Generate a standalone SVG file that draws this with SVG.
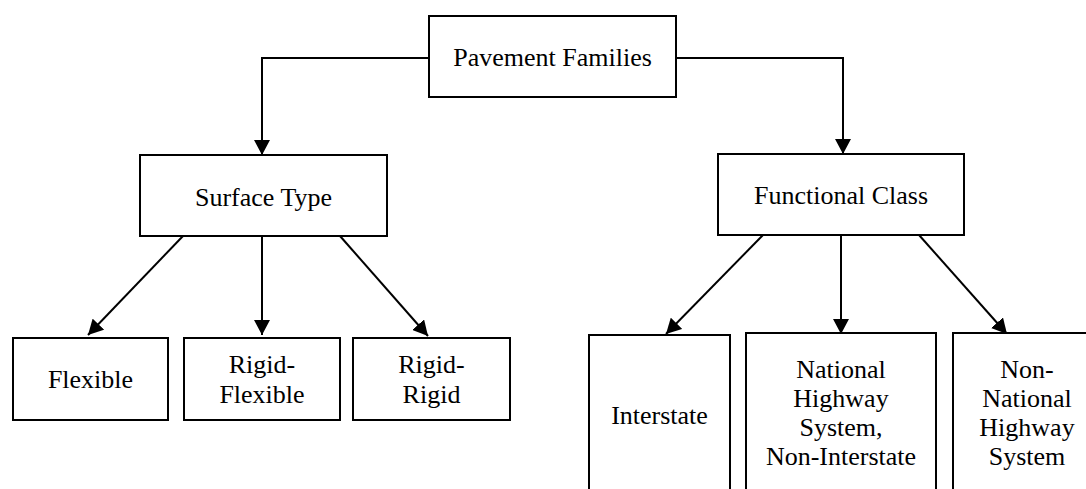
<svg xmlns="http://www.w3.org/2000/svg" width="1086" height="489" viewBox="0 0 1086 489">
<style>
.box{fill:#fff;stroke:#000;stroke-width:2}
text{font-family:'Liberation Serif','DejaVu Serif',serif;font-size:26px;fill:#000;text-anchor:middle}
.con{fill:none;stroke:#000;stroke-width:2;marker-end:url(#ah)}
</style>
<defs>
<marker id="ah" markerUnits="userSpaceOnUse" viewBox="0 0 15 16" refX="15" refY="8" markerWidth="15" markerHeight="16" orient="auto">
<path d="M0,0 L15,8 L0,16 z" fill="#000"/>
</marker>
</defs>
<rect width="1086" height="489" fill="#fff"/>
<g id="connectors">
<path class="con" d="M429,58 H262 V155"/>
<path class="con" d="M676,58 H843 V154"/>
<path class="con" d="M183,236 L88,335"/>
<path class="con" d="M262,236 V335"/>
<path class="con" d="M340,236 L428,336"/>
<path class="con" d="M763,235 L666,334"/>
<path class="con" d="M841,235 V334"/>
<path class="con" d="M919,235 L1007,334"/>
</g>
<g id="pavement-families">
<rect class="box" x="429" y="16" width="247" height="81"/>
<text x="552.5" y="66">Pavement Families</text>
</g>
<g id="surface-type">
<rect class="box" x="140" y="155" width="247" height="81"/>
<text x="263.5" y="206">Surface Type</text>
</g>
<g id="functional-class">
<rect class="box" x="718" y="154" width="246" height="81"/>
<text x="841" y="204">Functional Class</text>
</g>
<g id="flexible">
<rect class="box" x="13" y="338" width="155" height="82"/>
<text x="90.5" y="388">Flexible</text>
</g>
<g id="rigid-flexible">
<rect class="box" x="184" y="338" width="156" height="82"/>
<text x="262" y="373">Rigid-</text>
<text x="262" y="403">Flexible</text>
</g>
<g id="rigid-rigid">
<rect class="box" x="353" y="338" width="157" height="82"/>
<text x="431.5" y="373">Rigid-</text>
<text x="431.5" y="403">Rigid</text>
</g>
<g id="interstate">
<rect class="box" x="589" y="335" width="141" height="170"/>
<text x="659.5" y="424">Interstate</text>
</g>
<g id="nhs-non-interstate">
<rect class="box" x="746" y="333" width="190" height="172"/>
<text x="841" y="378">National</text>
<text x="841" y="407">Highway</text>
<text x="841" y="436">System,</text>
<text x="841" y="465">Non-Interstate</text>
</g>
<g id="non-nhs">
<rect class="box" x="953" y="333" width="150" height="172"/>
<text x="1027" y="378">Non-</text>
<text x="1027" y="407">National</text>
<text x="1027" y="436">Highway</text>
<text x="1027" y="465">System</text>
</g>
</svg>
